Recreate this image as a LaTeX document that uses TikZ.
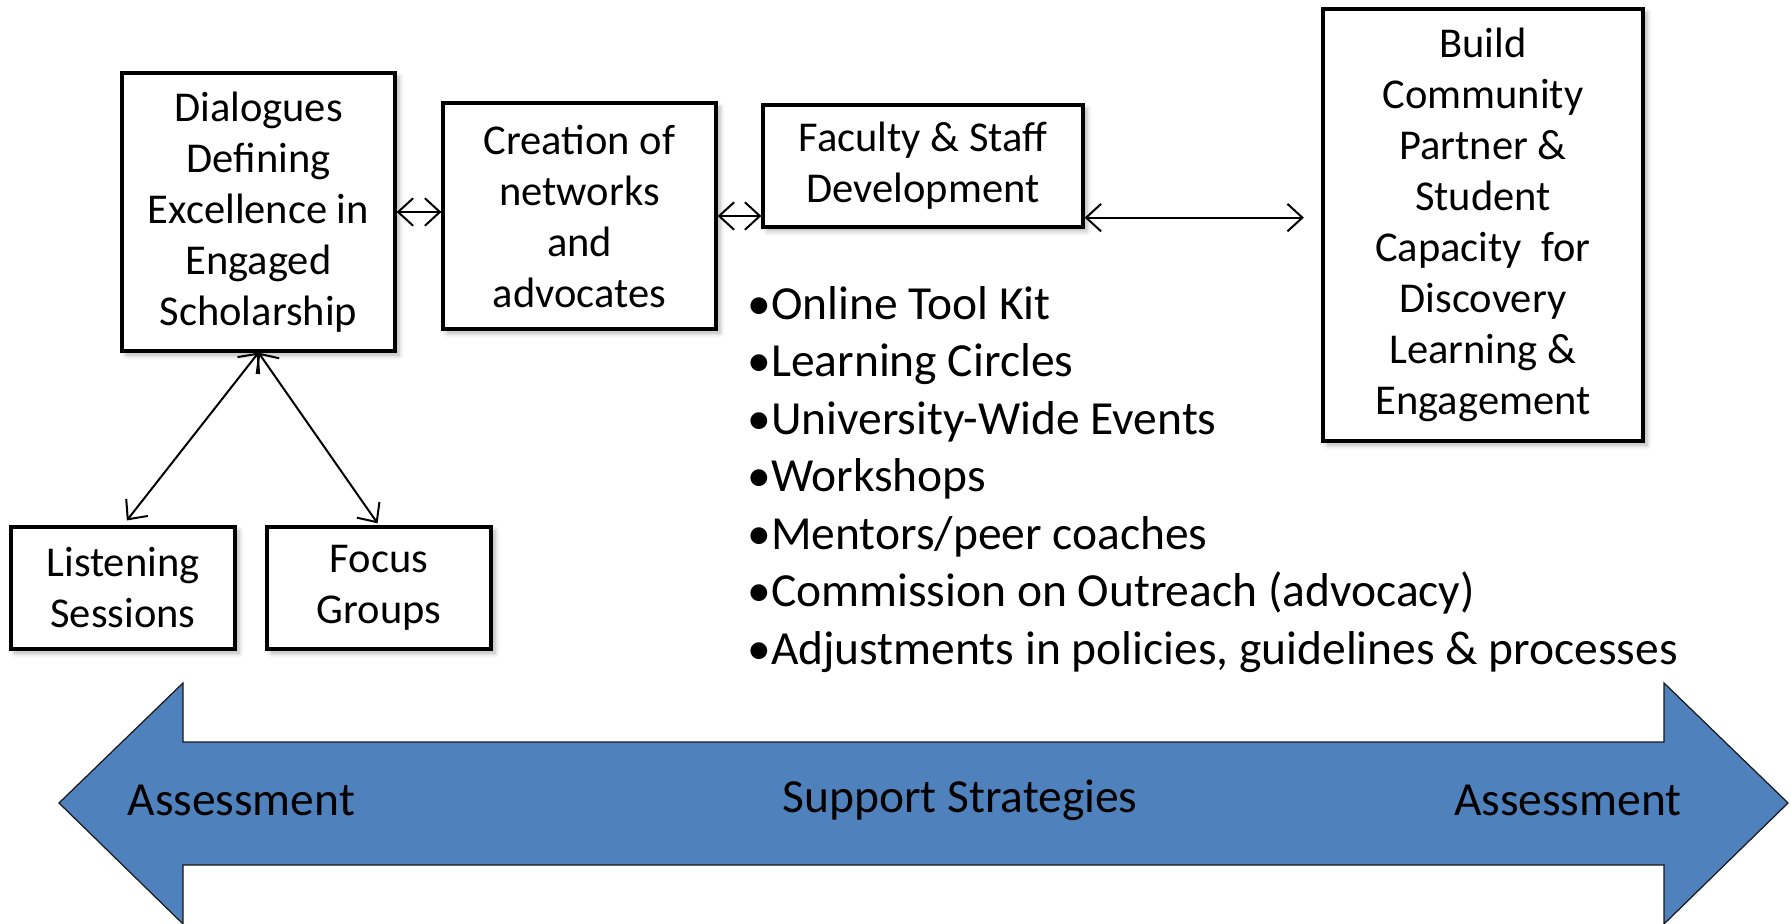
\documentclass[tikz,border=0pt]{standalone}
\usepackage{fontspec}
\setmainfont{Carlito}
\usetikzlibrary{arrows.meta, positioning, shadows.blur}
\definecolor{sblue}{HTML}{4F81BD}
\definecolor{sedge}{HTML}{1A1A1A}
\tikzset{
  wbox/.style={draw, line width=1.3pt, fill=white, align=center, inner sep=0pt,
               font=\fontsize{17}{20.4}\selectfont,
               blur shadow={shadow xshift=1.6pt, shadow yshift=-1.6pt,
                            shadow blur steps=6, shadow opacity=30}},
  arr/.style={{Straight Barb[length=6pt,width=11pt]}-{Straight Barb[length=6pt,width=11pt]},
              line width=0.8pt},
  bigarrow/.style={draw=sedge, line width=0.5pt, fill=sblue},
  albl/.style={font=\fontsize{19}{23}\selectfont, inner sep=0pt},
}

\begin{document}
\begin{tikzpicture}[x=0.4pt, y=-0.4pt]
  \useasboundingbox (0,0) rectangle (1791,924);

  % Big double arrow
  \draw[bigarrow] (59,803) -- (183,683) -- (183,742) -- (1664,742) -- (1664,683)
    -- (1788,803) -- (1664,924) -- (1664,865) -- (183,865) -- (183,924) -- cycle;
  \node[albl, anchor=west] (assessL) at (127,800) {Assessment};
  \node[albl] (support) at (960,800) {Support Strategies};
  \node[albl, anchor=east] (assessR) at (1682,800) {Assessment};

  % Boxes
  \node[wbox, minimum width=109.2pt, minimum height=111.2pt] (dialogues) at (258.5,212)
    {Dialogues\\Defining\\Excellence in\\Engaged\\Scholarship};
  \node[wbox, minimum width=109.2pt, minimum height=90.4pt] (creation) at (579.5,216)
    {Creation of\\networks\\and\\advocates};
  \node[wbox, minimum width=128pt, minimum height=48.8pt] (faculty) at (923,166)
    {Faculty \& Staff\\Development};
  \node[wbox, minimum width=128pt, minimum height=172.8pt] (build) at (1483,225)
    {Build\\Community\\Partner \&\\Student\\Capacity\ \ for\\Discovery\\Learning \&\\Engagement};
  \node[wbox, minimum width=89.6pt, minimum height=48.8pt] (listening) at (123,588)
    {Listening\\Sessions};
  \node[wbox, minimum width=89.6pt, minimum height=48.8pt] (focus) at (379,588)
    {Focus\\Groups};

  % Connectors
  \draw[arr] (dialogues.east) -- (dialogues.east -| creation.west);
  \draw[arr] (creation.east) -- (creation.east -| faculty.west);
  \draw[arr, shorten >=7pt] ([yshift=4.4pt]faculty.south east)
    -- ([yshift=4.4pt]faculty.south east -| build.west);
  \draw[arr, shorten >=2.5pt] (dialogues.south) -- (listening.north);
  \draw[arr, shorten >=1pt] (dialogues.south) -- (focus.north);

  % Strategy list
  \node[albl, anchor=north west, align=left] (strategies) at (747,286)
    {•Online Tool Kit\\
     •Learning Circles\\
     •University-Wide Events\\
     •Workshops\\
     •Mentors/peer coaches\\
     •Commission on Outreach (advocacy)\\
     •Adjustments in policies, guidelines \& processes};
\end{tikzpicture}
\end{document}
